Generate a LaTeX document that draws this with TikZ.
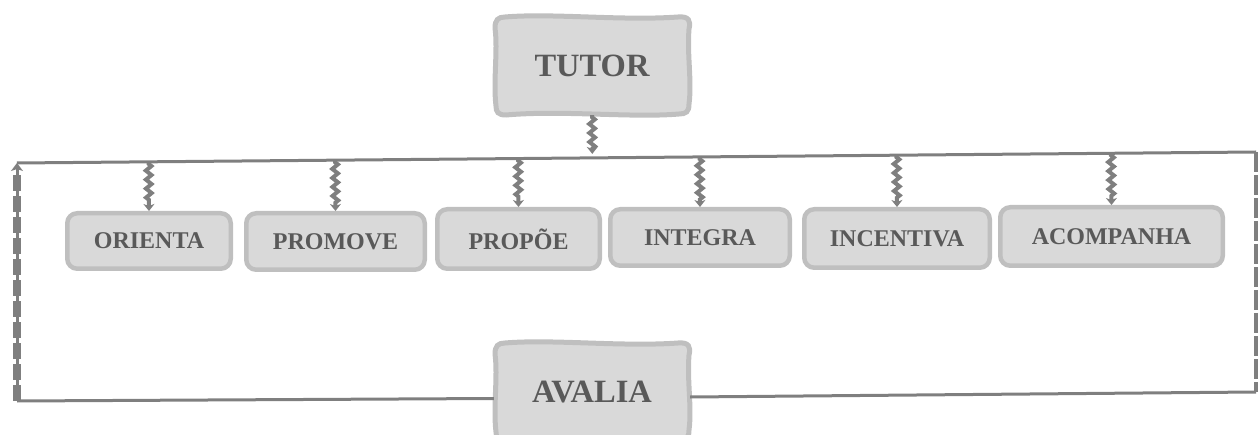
\documentclass[tikz,border=0pt]{standalone}
\usepackage{fontspec}
\setmainfont{Liberation Serif}
\usetikzlibrary{arrows.meta,decorations.pathmorphing,calc}
\definecolor{linegray}{HTML}{7F7F7F}
\definecolor{boxfill}{HTML}{D9D9D9}
\definecolor{boxline}{HTML}{BFBFBF}
\definecolor{txtgray}{HTML}{595959}
\tikzset{
  bigtext/.style={inner sep=0pt, minimum width=196pt, minimum height=98pt, text=txtgray,
    font=\fontsize{32.5}{32.5}\selectfont\bfseries},
  smallbox/.style={draw=boxline, fill=boxfill, line width=4.5pt, rounded corners=10pt,
    inner sep=0pt, text=txtgray, font=\fontsize{24}{24}\selectfont\bfseries},
  wavebox/.pic={
    \draw[draw=boxline, fill=boxfill, line width=5pt]
      (-87,-49) .. controls (-40,-53) and (30,-45) .. (86,-49)
      .. controls (97,-50) and (99,-45) .. (97,-37)
      .. controls (95,-10) and (100,15) .. (97,38)
      .. controls (97,46) and (94,48) .. (87,48)
      .. controls (40,52) and (-30,44) .. (-86,49)
      .. controls (-94,49) and (-96,46) .. (-96,40)
      .. controls (-99,15) and (-94,-15) .. (-97,-38)
      .. controls (-97,-46) and (-94,-49) .. cycle;
  },
  mainline/.style={draw=linegray, line width=3pt},
  zz/.style={draw=linegray, line width=4pt,
    decorate, decoration={zigzag, segment length=9pt, amplitude=2.8pt, pre length=2pt, post length=7pt},
    -{Stealth[length=7pt,width=11pt,inset=2pt]}},
}
\begin{document}
\begin{tikzpicture}[x=1pt,y=-1pt]
\useasboundingbox (0,0) rectangle (1260,435);
\begin{scope}
\clip (0,0) rectangle (1260,435);

% boxes
\pic at (592,66) {wavebox};
\node[bigtext] (tutor) at (592,66) {TUTOR};
\pic at (592,392) {wavebox};
\node[bigtext] (avalia) at (592,392) {AVALIA};

\node[smallbox, minimum width=163.5pt, minimum height=55.5pt] (orienta) at (149,241) {ORIENTA};
\node[smallbox, minimum width=178.5pt, minimum height=56.5pt] (promove) at (335.5,241.5) {PROMOVE};
\node[smallbox, minimum width=162.5pt, minimum height=59.5pt] (propoe) at (518.5,239) {PROPÕE};
\node[smallbox, minimum width=179.5pt, minimum height=56.5pt] (integra) at (700,237.5) {INTEGRA};
\node[smallbox, minimum width=185.5pt, minimum height=58.5pt] (incentiva) at (897,238.5) {INCENTIVA};
\node[smallbox, minimum width=222.5pt, minimum height=58.5pt] (acompanha) at (1111.5,236.5) {ACOMPANHA};

% frame lines
\coordinate (TL) at (17,163);
\coordinate (TR) at (1256,152);
\coordinate (BL) at (17,401);
\coordinate (BR) at (1256,392);
\draw[mainline] (TL) -- (TR);
\draw[mainline] (BL) -- (avalia.west |- 0,398.5);
\draw[mainline] (avalia.east |- 0,397) -- (BR);
% right dashed side
\draw[draw=linegray, line width=4.5pt, dash pattern=on 20pt off 3pt] (TR) -- (BR);
% left dashed side with arrow up
\draw[draw=linegray, line width=3pt, shorten >=4pt] (BL) -- (TL);
\draw[draw=linegray, line width=8pt, dash pattern=on 16pt off 5pt, shorten >=8pt] (BL) -- (TL);
\draw[draw=linegray, line width=3pt, -{Stealth[length=8pt,width=12pt,inset=2pt]}] (17,180) -- (TL);

% connectors
\coordinate (ct) at ($(TL)!(tutor.south)!(TR)$);
\draw[zz, shorten >=4pt] (tutor.south) -- (ct);
\foreach \b/\c in {orienta/c1, promove/c2, propoe/c3, integra/c4, incentiva/c5, acompanha/c6}{
  \coordinate (\c) at ($(TL)!(\b.north)!(TR)$);
  \draw[zz] (\c) -- (\b.north);
}
\end{scope}
\end{tikzpicture}
\end{document}
